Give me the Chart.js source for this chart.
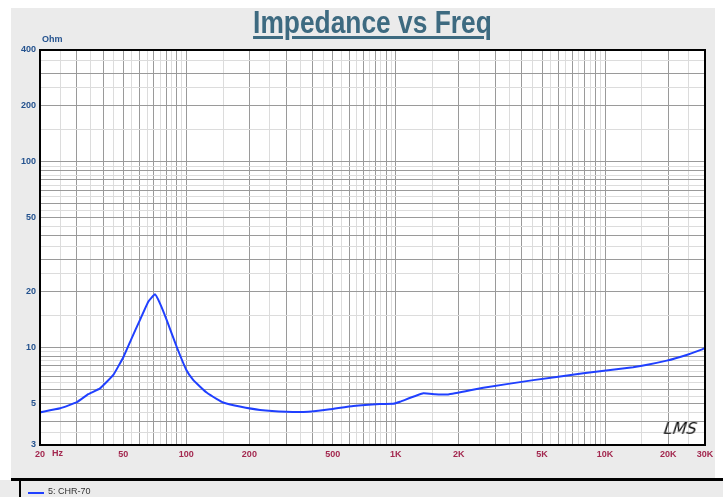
<!DOCTYPE html>
<html>
<head>
<meta charset="utf-8">
<script src="https://cdn.jsdelivr.net/npm/chart.js@4.4.1/dist/chart.umd.min.js"></script>
<style>
  html, body { margin: 0; padding: 0; background: #fff; }
  body { width: 723px; height: 497px; position: relative; overflow: hidden; }
  #chart { position: absolute; left: 0; top: 0; }
  .txt { position: absolute; white-space: nowrap; }
  #titlewrap { position: absolute; left: 0; width: 745px; top: 5px; text-align: center; }
  #title {
    display: inline-block; transform: scaleX(0.85);
    font: bold 31px "Liberation Sans", Arial, sans-serif;
    color: #3d6a80; text-decoration: underline; text-decoration-thickness: 3px;
    text-underline-offset: 3px;
  }
  #ohm { left: 42px; top: 34px; font: bold 9px "Liberation Sans", Arial, sans-serif; color: #24528e; }
  #hz { left: 52px; top: 448px; font: bold 9px "Liberation Sans", Arial, sans-serif; color: #a3284f; }
  #lms { left: 664px; top: 419px; font: italic 16px "DejaVu Sans", sans-serif; color: #111; transform: skewX(-8deg); }
  #legend { left: 48px; top: 486px; font: 9px "Liberation Sans", Arial, sans-serif; color: #333; }
  #legline { position: absolute; left: 28px; top: 492px; width: 16px; height: 2px; background: #2040ff; }
</style>
</head>
<body>
<canvas id="chart" width="723" height="497"></canvas>
<div id="titlewrap"><span id="title">Impedance vs Freq</span></div>
<div class="txt" id="ohm">Ohm</div>
<div class="txt" id="hz">Hz</div>
<div class="txt" id="lms">LMS</div>
<div id="legline"></div>
<div class="txt" id="legend">5: CHR-70</div>
<script>
// measured impedance curve (Hz / Ohm)
const FREQ = [20, 25, 30, 34, 38.7, 44.8, 50, 54.8, 60, 65.8, 70.8, 74.8, 80.6, 90, 100, 108, 116, 125, 140, 150, 180, 225, 300, 382, 485, 627, 840, 973, 1048, 1354, 1540, 1782, 2620, 4540, 7870, 13600, 19700, 24500, 30000];
const IMPEDANCE = [4.5, 4.73, 5.1, 5.63, 6.05, 7.15, 8.9, 11.25, 14.1, 17.7, 19.4, 17.35, 14.1, 10.1, 7.6, 6.7, 6.2, 5.75, 5.3, 5.08, 4.83, 4.63, 4.53, 4.53, 4.67, 4.87, 4.99, 5.0, 5.13, 5.69, 5.63, 5.61, 6.1, 6.7, 7.3, 7.86, 8.53, 9.15, 9.94];

const X_TICKS = [20, 50, 100, 200, 500, 1000, 2000, 5000, 10000, 20000, 30000];
const X_TICK_LABELS = ['20', '50', '100', '200', '500', '1K', '2K', '5K', '10K', '20K', '30K'];
const Y_TICKS = [3, 5, 10, 20, 50, 100, 200, 400];

// grid at n*10^k (dark) and (n+0.5)*10^k (light)
function gridValues(min, max) {
  const out = [];
  for (let e = -1; e < 6; e++) {
    for (let n = 1; n < 10; n += 0.5) {
      const v = +(n * Math.pow(10, e)).toPrecision(6);
      if (v >= min && v <= max) out.push(v);
    }
  }
  return out;
}
function isMajor(v) {
  const p = Math.pow(10, Math.floor(Math.log10(v) + 1e-9));
  const n = v / p;
  return Math.abs(n - Math.round(n)) < 1e-6;
}
const gridColor = ctx => isMajor(ctx.tick.value) ? '#9a9a9a' : '#dcdcdc';

const backdrop = {
  id: 'backdrop',
  beforeDraw(chart) {
    const c = chart.ctx, a = chart.chartArea;
    c.save();
    c.fillStyle = '#fff';
    c.fillRect(0, 0, 723, 497);
    c.fillStyle = '#ebebeb';
    c.fillRect(11, 8, 704, 470);
    c.fillRect(0, 480, 723, 17);
    c.fillStyle = '#000';
    c.fillRect(11, 478, 712, 3);
    c.fillRect(19, 480, 2, 17);
    c.fillStyle = '#fff';
    c.fillRect(a.left, a.top, a.right - a.left, a.bottom - a.top);
    c.restore();
  },
  afterDraw(chart) {
    const c = chart.ctx, a = chart.chartArea;
    c.save();
    c.strokeStyle = '#000';
    c.lineWidth = 2;
    c.strokeRect(a.left, a.top, a.right - a.left, a.bottom - a.top);
    c.restore();
  }
};

new Chart(document.getElementById('chart'), {
  type: 'line',
  data: {
    datasets: [{
      label: '5: CHR-70',
      data: FREQ.map((f, i) => ({ x: f, y: IMPEDANCE[i] })),
      borderColor: '#2040ff',
      borderWidth: 2,
      pointRadius: 0,
      tension: 0.1,
      fill: false
    }]
  },
  options: {
    responsive: false,
    animation: false,
    layout: { padding: { left: 0, right: 18, top: 50, bottom: 32 } },
    plugins: { legend: { display: false }, tooltip: { enabled: false } },
    scales: {
      x: {
        type: 'logarithmic',
        min: 20, max: 30000,
        afterFit: s => { s.height = 20; },
        afterBuildTicks: s => { s.ticks = gridValues(20, 30000).map(v => ({ value: v })); },
        grid: { color: gridColor, lineWidth: 1, drawTicks: false },
        border: { display: false },
        ticks: {
          autoSkip: false, maxRotation: 0, padding: 4,
          color: '#a3284f',
          font: { family: '"Liberation Sans", Arial, sans-serif', size: 9, weight: 'bold' },
          callback: v => { const i = X_TICKS.indexOf(v); return i >= 0 ? X_TICK_LABELS[i] : ''; }
        }
      },
      y: {
        type: 'logarithmic',
        min: 3, max: 400,
        afterFit: s => { s.width = 40; },
        afterBuildTicks: s => { s.ticks = gridValues(3, 400).map(v => ({ value: v })); },
        grid: { color: gridColor, lineWidth: 1, drawTicks: false },
        border: { display: false },
        ticks: {
          autoSkip: false, padding: 4,
          color: '#24528e',
          font: { family: '"Liberation Sans", Arial, sans-serif', size: 9, weight: 'bold' },
          callback: v => Y_TICKS.includes(v) ? String(v) : ''
        }
      }
    }
  },
  plugins: [backdrop]
});
</script>
</body>
</html>
